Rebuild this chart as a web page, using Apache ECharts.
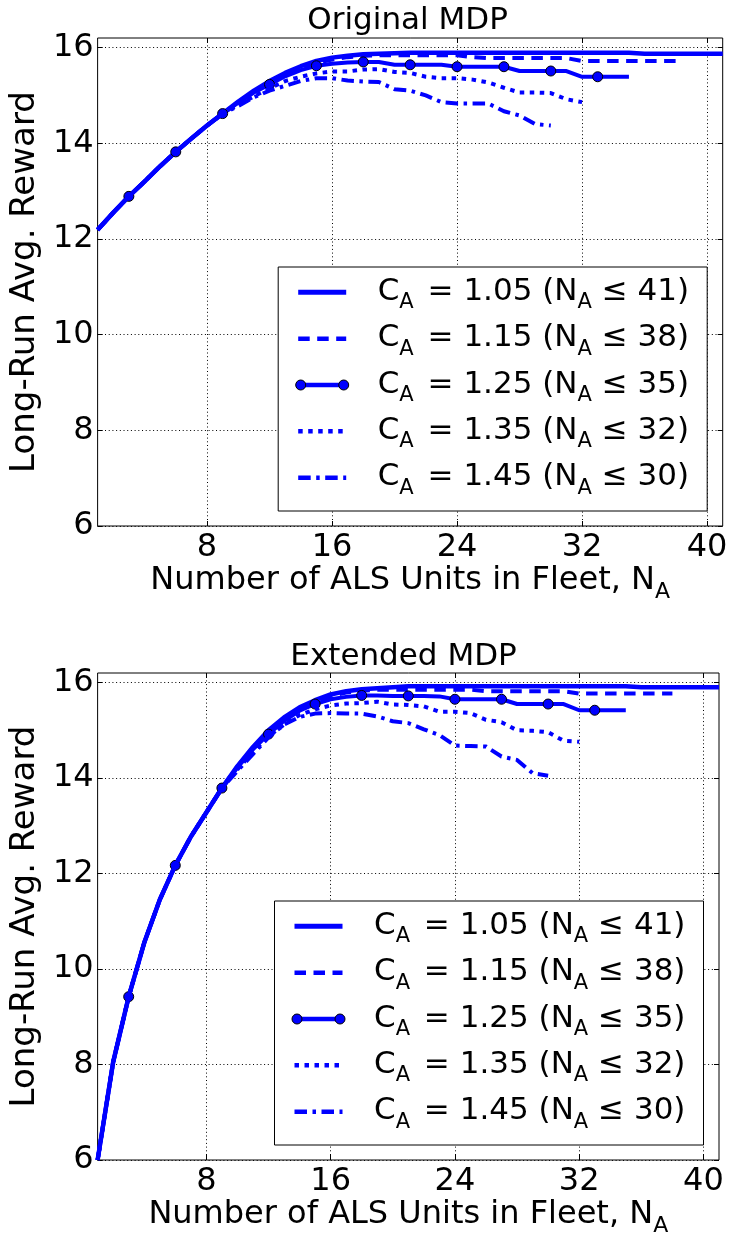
<!DOCTYPE html>
<html><head><meta charset="utf-8">
<script src="https://cdn.jsdelivr.net/npm/echarts@6/dist/echarts.min.js"></script>
<style>html,body{margin:0;padding:0;background:#fff}#c{width:731px;height:1239px}</style>
</head><body><div id="c"></div>
<script>
// ---------- data ----------
const fleetN = [1,2,3,4,5,6,7,8,9,10,11,12,13,14,15,16,17,18,19,20,21,22,23,24,25,26,27,28,29,30,31,32,33,34,35,36,37,38,39,40,41];
const costLabels = ['1.05','1.15','1.25','1.35','1.45'];
const fleetCaps = [41,38,35,32,30];
const xTicks = [8,16,24,32,40];
const yTicks = [6,8,10,12,14,16];

// Original MDP
const origC105 = [12.19,12.55,12.89,13.20,13.52,13.82,14.10,14.37,14.62,14.87,15.10,15.30,15.47,15.61,15.72,15.79,15.83,15.86,15.87,15.88,15.89,15.89,15.89,15.89,15.89,15.89,15.89,15.89,15.89,15.89,15.89,15.89,15.89,15.89,15.89,15.87,15.87,15.87,15.87,15.87,15.87];
const origC115 = [12.19,12.55,12.89,13.20,13.52,13.82,14.10,14.37,14.62,14.86,15.08,15.27,15.44,15.58,15.68,15.75,15.80,15.83,15.84,15.84,15.84,15.84,15.84,15.84,15.80,15.78,15.78,15.78,15.78,15.78,15.78,15.72,15.72,15.72,15.72,15.72,15.72,15.72];
const origC125 = [12.19,12.55,12.89,13.20,13.52,13.82,14.10,14.37,14.62,14.85,15.06,15.23,15.40,15.53,15.62,15.66,15.69,15.70,15.70,15.64,15.64,15.64,15.64,15.60,15.60,15.60,15.60,15.51,15.51,15.51,15.51,15.39,15.39,15.39,15.39];
const origC135 = [12.19,12.55,12.89,13.20,13.52,13.82,14.10,14.37,14.62,14.80,14.98,15.15,15.30,15.39,15.46,15.50,15.50,15.54,15.55,15.49,15.47,15.39,15.36,15.36,15.33,15.27,15.16,15.06,15.06,15.05,14.92,14.86];
const origC145 = [12.19,12.55,12.89,13.20,13.52,13.82,14.10,14.37,14.62,14.78,14.96,15.10,15.20,15.30,15.36,15.36,15.31,15.29,15.28,15.13,15.10,15.00,14.86,14.83,14.83,14.83,14.67,14.58,14.40,14.37];

// Extended MDP
const extC105 = [6.00,8.05,9.42,10.55,11.45,12.17,12.77,13.28,13.79,14.25,14.65,15.00,15.27,15.48,15.63,15.75,15.82,15.86,15.88,15.90,15.92,15.92,15.92,15.92,15.92,15.92,15.92,15.92,15.92,15.92,15.92,15.92,15.92,15.92,15.92,15.90,15.90,15.90,15.90,15.90,15.90];
const extC115 = [6.00,8.05,9.42,10.55,11.45,12.17,12.77,13.28,13.79,14.24,14.63,14.97,15.24,15.45,15.60,15.72,15.79,15.83,15.85,15.85,15.85,15.85,15.85,15.85,15.85,15.82,15.82,15.82,15.82,15.82,15.82,15.77,15.77,15.77,15.77,15.77,15.77,15.77];
const extC125 = [6.00,8.05,9.42,10.55,11.45,12.17,12.77,13.28,13.79,14.22,14.60,14.92,15.20,15.41,15.55,15.65,15.70,15.73,15.73,15.72,15.72,15.72,15.71,15.65,15.65,15.65,15.65,15.55,15.55,15.55,15.55,15.42,15.42,15.42,15.42];
const extC135 = [6.00,8.05,9.42,10.55,11.45,12.17,12.77,13.28,13.79,14.18,14.55,14.87,15.12,15.32,15.44,15.52,15.56,15.57,15.60,15.54,15.53,15.50,15.39,15.39,15.36,15.22,15.17,15.00,14.99,14.96,14.78,14.76];
const extC145 = [6.00,8.05,9.42,10.55,11.45,12.17,12.77,13.28,13.79,14.15,14.50,14.85,15.12,15.28,15.35,15.36,15.35,15.35,15.29,15.19,15.15,15.02,14.90,14.68,14.67,14.66,14.45,14.38,14.10,14.05];

// ---------- styling / layout ----------
const FONT = 'DejaVu Sans';
const FS = 31;      // legend / title
const TFS = 32;     // tick labels & x label
const YFS = 34;     // y label
const SUB = 21;
const BLUE = '#0000ff';
const lineDefs = [
  {dash: 'solid', width: 4.5, marker: false},
  {dash: [11.5, 7.5], width: 4, marker: false},
  {dash: 'solid', width: 4, marker: true},
  {dash: [4.5, 5.5], width: 4, marker: false},
  {dash: [12.5, 5.5, 3.5, 5.5], width: 4, marker: false}
];
const panels = [
  {title: 'Original MDP', rect: {l: 92.5, t: 38, r: 722.7, b: 526}, titleTop: 5, data: [origC105, origC115, origC125, origC135, origC145]},
  {title: 'Extended MDP', rect: {l: 88, t: 673, r: 719, b: 1160}, titleTop: 641, data: [extC105, extC115, extC125, extC135, extC145]}
];

function mkRich(fs, sub, pad) {
  return {
    m: {fontSize: fs, fontFamily: FONT, color: '#000', lineHeight: fs, verticalAlign: 'top'},
    s: {fontSize: sub, fontFamily: FONT, color: '#000', lineHeight: sub, verticalAlign: 'top', padding: [pad, 0, 0, 0]},
    s2: {fontSize: sub, fontFamily: FONT, color: '#000', lineHeight: sub, verticalAlign: 'top', padding: [pad, 4, 0, 0]}
  };
}
const rich = mkRich(FS, SUB, 16);
const richX = mkRich(TFS, 22, 16);

const mctx = document.createElement('canvas').getContext('2d');
mctx.font = FS + 'px "' + FONT + '"';

const grid = [], xAxis = [], yAxis = [], series = [], title = [], graphic = [];
const axisFont = {fontSize: TFS, fontFamily: FONT, color: '#000'};

panels.forEach((p, i) => {
  const r = p.rect;
  grid.push({left: r.l, top: r.t, width: r.r - r.l, height: r.b - r.t, show: true, borderColor: '#000', borderWidth: 1, backgroundColor: 'transparent', containLabel: false});
  const w = mctx.measureText(p.title).width;
  title.push({text: p.title, left: (r.l + r.r) / 2 - w / 2, top: p.titleTop, padding: 0,
    textStyle: {fontSize: FS, fontWeight: 'normal', fontFamily: FONT, color: '#000'}});
});
// main axes
panels.forEach((p, i) => {
  xAxis.push({
    gridIndex: i, type: 'value', min: 1, max: 41,
    name: '{m|Number of ALS Units in Fleet, N}{s|A}', nameLocation: 'middle', nameGap: 39,
    nameTextStyle: {fontSize: TFS, fontFamily: FONT, color: '#000', rich: richX},
    axisLine: {show: false},
    axisTick: {show: true, inside: true, length: 5, lineStyle: {color: '#000', width: 1}, customValues: xTicks},
    axisLabel: Object.assign({margin: 6, customValues: xTicks}, axisFont),
    splitLine: {show: true, lineStyle: {color: '#000', width: 1, type: [1, 2.7]}}
  });
  yAxis.push({
    gridIndex: i, type: 'value', min: 6, max: 16.2, interval: 2,
    name: 'Long-Run Avg. Reward', nameLocation: 'middle', nameGap: 44,
    nameTextStyle: {fontSize: YFS, fontFamily: FONT, color: '#000'},
    axisLine: {show: false},
    axisTick: {show: true, inside: true, length: 5, lineStyle: {color: '#000', width: 1}, customValues: yTicks},
    axisLabel: Object.assign({margin: 4, customValues: yTicks}, axisFont),
    splitLine: {show: true, lineStyle: {color: '#000', width: 1, type: [1, 2.7]}}
  });
});
// mirrored tick axes (top / right)
panels.forEach((p, i) => {
  xAxis.push({gridIndex: i, type: 'value', min: 1, max: 41, position: 'top',
    axisLine: {show: false}, axisLabel: {show: false}, splitLine: {show: false},
    axisTick: {show: true, inside: true, length: 5, lineStyle: {color: '#000'}, customValues: xTicks}});
  yAxis.push({gridIndex: i, type: 'value', min: 6, max: 16.2, interval: 2, position: 'right',
    axisLine: {show: false}, axisLabel: {show: false}, splitLine: {show: false},
    axisTick: {show: true, inside: true, length: 5, lineStyle: {color: '#000'}, customValues: yTicks}});
});

panels.forEach((p, i) => {
  p.data.forEach((vals, k) => {
    const d = lineDefs[k];
    series.push({
      type: 'line', name: 'C_A = ' + costLabels[k], xAxisIndex: i, yAxisIndex: i,
      data: vals.map((v, j) => [fleetN[j], v]),
      lineStyle: {color: BLUE, width: d.width, type: d.dash, cap: 'butt', join: 'round'},
      itemStyle: {color: BLUE, borderColor: '#000', borderWidth: 1},
      symbol: d.marker ? function (v) { return (v[0] % 3 === 0) ? 'circle' : 'none'; } : 'none',
      symbolSize: 10,
      showSymbol: d.marker, showAllSymbol: true,
      emphasis: {disabled: true},
      silent: true, z: 2 + k
    });
  });
  // legend (drawn as graphic, positioned relative to the grid)
  const r = p.rect;
  const bw = 429, bh = 244;
  const bx = r.r - 15.5 - bw, by = r.b - 15 - bh;
  graphic.push({type: 'rect', shape: {x: bx, y: by, width: bw, height: bh}, style: {fill: '#fff', stroke: '#000', lineWidth: 1}, z: 100});
  lineDefs.forEach((d, k) => {
    const yy = by + 25.3 + k * 46.35;
    const x1 = bx + 20, x2 = bx + 68;
    graphic.push({type: 'line', shape: {x1: d.marker ? x1 + 2.5 : x1, y1: yy, x2: d.marker ? x2 - 2.5 : x2, y2: yy},
      style: {stroke: BLUE, lineWidth: d.width + 0.5, lineDash: d.dash === 'solid' ? null : d.dash, lineCap: 'butt'}, z: 101});
    if (d.marker) {
      [x1 + 2.5, x2 - 2.5].forEach(cx => graphic.push({type: 'circle', shape: {cx: cx, cy: yy, r: 5}, style: {fill: BLUE, stroke: '#000', lineWidth: 1}, z: 102}));
    }
    graphic.push({type: 'text', x: bx + 99.5, y: yy - 16,
      style: {text: '{m|C}{s2|A}{m| = ' + costLabels[k] + ' (N}{s|A}{m| ≤ ' + fleetCaps[k] + ')}', rich: rich, fill: '#000'}, z: 103});
  });
});

const chart = echarts.init(document.getElementById('c'), null, {renderer: 'canvas'});
chart.setOption({animation: false, backgroundColor: '#fff', title, grid, xAxis, yAxis, series, graphic});
</script></body></html>
